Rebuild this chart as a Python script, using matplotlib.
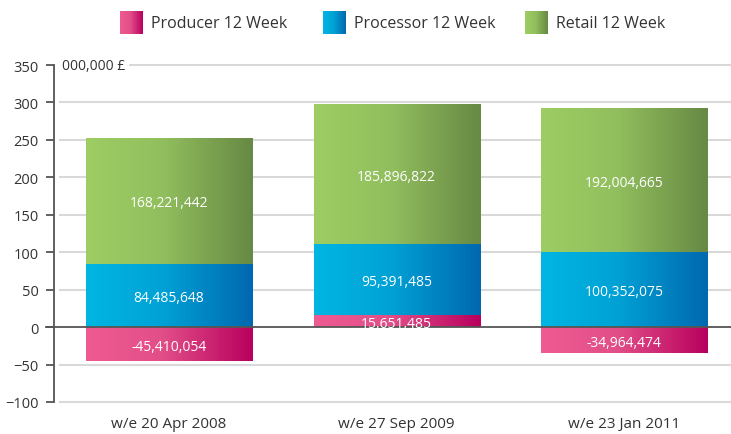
import numpy as np
import matplotlib
matplotlib.use("Agg")
import matplotlib.pyplot as plt
from matplotlib.colors import LinearSegmentedColormap

plt.rcParams['font.family'] = ['Open Sans', 'DejaVu Sans']

categories = ["w/e 20 Apr 2008", "w/e 27 Sep 2009", "w/e 23 Jan 2011"]
series_names = ["Producer 12 Week", "Processor 12 Week", "Retail 12 Week"]
producer = [-45410054, 15651485, -34964474]
processor = [84485648, 95391485, 100352075]
retail = [168221442, 185896822, 192004665]
yticks = [-100, -50, 0, 50, 100, 150, 200, 250, 300, 350]
unit_label = "000,000 £"

grad_colors = [
    ["#EF5A92", "#E24F88", "#B8005E"],
    ["#00B6E2", "#00A2D6", "#0068B0"],
    ["#9DCD63", "#92BF5E", "#678944"],
]

fig = plt.figure(figsize=(7.31, 4.35), dpi=100)
ax = fig.add_axes([54/731, 32/435, 677/731, 337/435])

x = np.arange(len(categories))
width = 0.73
scale = 1e6
p = np.array(producer) / scale
pr = np.array(processor) / scale
r = np.array(retail) / scale

# stacking: positives stack from 0 upward, negatives go downward
pos_base = np.zeros(len(x))
neg_base = np.zeros(len(x))
segments = []
for si, vals in enumerate([p, pr, r]):
    bottoms = np.where(vals >= 0, pos_base, neg_base)
    bars = ax.bar(x, vals, width, bottom=bottoms, color='none', edgecolor='none')
    segments.append((si, bars, vals, bottoms))
    pos_base = pos_base + np.where(vals >= 0, vals, 0)
    neg_base = neg_base + np.where(vals < 0, vals, 0)

grad = np.linspace(0, 1, 256).reshape(1, -1)
for si, bars, vals, bottoms in segments:
    cmap = LinearSegmentedColormap.from_list(f"g{si}", list(zip([0, 0.45, 1], grad_colors[si])))
    for b, v, bt, raw in zip(bars, vals, bottoms, [producer, processor, retail][si]):
        x0 = b.get_x(); w = b.get_width()
        y0 = b.get_y(); h = b.get_height()
        ax.imshow(grad, cmap=cmap, extent=(x0, x0 + w, min(y0, y0 + h), max(y0, y0 + h)),
                  aspect='auto', zorder=2, interpolation='bilinear')
        ax.text(x0 + w/2, y0 + h/2, f"{raw:,}", ha='center', va='center_baseline',
                color='white', fontsize=10, zorder=7)

ax.set_xlim(-0.505, 2.468)
ax.set_ylim(-100, 350)
ax.set_aspect('auto')

# gridlines
for t in yticks:
    if t == 0:
        continue
    ax.plot([-0.48, 2.468], [t, t], color='#d9d9d9', lw=1.5, zorder=1, clip_on=False)
ax.plot([-0.012, 1], [0, 0], transform=ax.get_yaxis_transform(), color='#555555',
        lw=1.3, zorder=5, clip_on=False)

for s in ['top', 'right', 'bottom']:
    ax.spines[s].set_visible(False)
ax.spines['left'].set_color('#555555')
ax.spines['left'].set_linewidth(1.3)
ax.set_yticks(yticks)
ax.tick_params(axis='y', direction='out', length=6, width=1.3, color='#555555',
               labelsize=10.5, labelcolor='#333333', pad=5)
ax.set_xticks(x)
ax.set_xticklabels(categories)
ax.tick_params(axis='x', length=0, labelsize=11, labelcolor='#333333', pad=10)

ax.text(-0.47, 350, unit_label, ha='left', va='center', fontsize=10, color='#333333',
        zorder=6, bbox=dict(facecolor='white', edgecolor='none', pad=3))

# legend
sq_x = [120, 323, 525]
for i, name in enumerate(series_names):
    lax = fig.add_axes([sq_x[i]/731, 400/435, 23/731, 23/435])
    cmap = LinearSegmentedColormap.from_list(f"l{i}", list(zip([0, 0.45, 1], grad_colors[i])))
    lax.imshow(grad, cmap=cmap, aspect='auto', extent=(0, 1, 0, 1))
    lax.axis('off')
    fig.text((sq_x[i] + 31)/731, 411.5/435, name, ha='left', va='center',
             fontsize=11.5, color='#333333')

fig.savefig("out.png", dpi=100)
